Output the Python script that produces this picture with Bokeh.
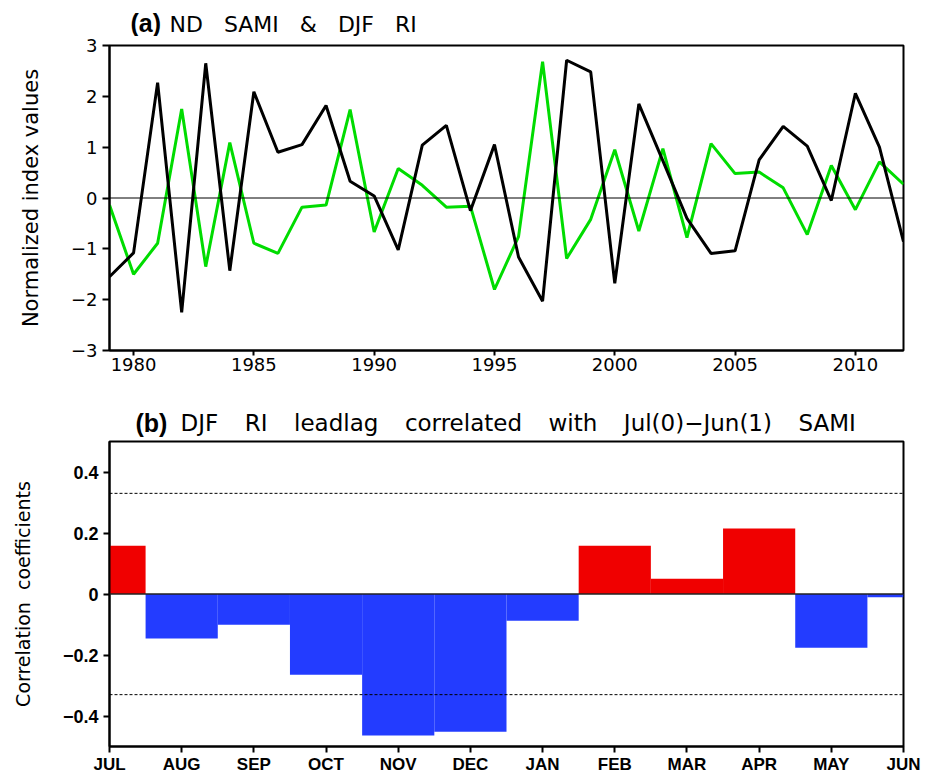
from bokeh.plotting import figure
from bokeh.models import Range1d, FixedTicker, Label, Span
from bokeh.layouts import column
from bokeh.embed import file_html
from bokeh.resources import INLINE

# ---- data panel (a) ----
years = list(range(1979, 2013))
ri_djf = [-1.55, -1.08, 2.27, -2.25, 2.65, -1.43, 2.09, 0.90, 1.05, 1.82,
          0.33, 0.04, -1.02, 1.04, 1.43, -0.25, 1.05, -1.16, -2.03, 2.71,
          2.48, -1.68, 1.85, 0.73, -0.40, -1.09, -1.04, 0.75, 1.41, 1.02,
          -0.05, 2.06, 1.00, -0.86]
sami_nd = [-0.14, -1.50, -0.89, 1.75, -1.35, 1.09, -0.89, -1.09, -0.18, -0.14,
           1.74, -0.67, 0.58, 0.25, -0.18, -0.16, -1.80, -0.76, 2.68, -1.19,
           -0.42, 0.95, -0.65, 0.97, -0.78, 1.07, 0.48, 0.51, 0.20, -0.72,
           0.64, -0.23, 0.71, 0.27]
year_ticks = [1980, 1985, 1990, 1995, 2000, 2005, 2010]
a_yticks = [-3, -2, -1, 0, 1, 2, 3]

# ---- data panel (b) ----
months = ["JUL", "AUG", "SEP", "OCT", "NOV", "DEC", "JAN", "FEB", "MAR", "APR", "MAY", "JUN"]
corr = [0.158, -0.146, -0.101, -0.265, -0.464, -0.452, -0.088, 0.158, 0.050, 0.215, -0.176, -0.011]
sig_level = 0.33
b_yticks = [-0.4, -0.2, 0.0, 0.2, 0.4]

SP = "\u00a0\u00a0\u00a0"
SPB = "\u00a0\u00a0\u00a0\u2009"
title_a_tag = "(a)"
title_a_text = SP.join(["ND", "SAMI", "&", "DJF", "RI"])
title_b_tag = "(b)"
title_b_text = SPB.join(["DJF", "RI", "leadlag", "correlated", "with", "Jul(0)\u2212Jun(1)", "SAMI"])

FONT = "Liberation Sans"
TFONT = "DejaVu Sans"
LB, FW, RB = 109, 794, 20

def style(p):
    p.outline_line_color = "black"
    p.outline_line_width = 2
    p.xgrid.visible = False
    p.ygrid.visible = False
    p.background_fill_color = "white"
    p.border_fill_color = "white"
    for ax in (p.xaxis[0], p.yaxis[0]):
        ax.axis_line_width = 2
        ax.axis_line_color = "black"
        ax.major_tick_line_width = 2
        ax.major_tick_in = 0
        ax.minor_tick_line_color = None
        ax.major_label_text_font = FONT
        ax.major_label_text_color = "black"
        ax.axis_label_text_font = TFONT
        ax.axis_label_text_font_style = "normal"
        ax.axis_label_text_color = "black"

def header(h, tag, tag_x, tag_y, text, text_x, text_y, text_size):
    f = figure(output_backend="svg", toolbar_location=None, title=None,
               frame_width=FW, frame_height=h,
               min_border_left=LB, min_border_right=RB,
               min_border_top=0, min_border_bottom=0,
               x_axis_type=None, y_axis_type=None,
               x_range=Range1d(LB, LB + FW), y_range=Range1d(0, h))
    f.outline_line_color = None
    f.xgrid.visible = False
    f.ygrid.visible = False
    f.add_layout(Label(x=tag_x, y=tag_y, text=tag, text_font=FONT, text_font_style="bold",
                       text_font_size="25px", text_color="black", text_baseline="middle"))
    f.add_layout(Label(x=text_x, y=text_y, text=text, text_font=TFONT,
                       text_font_size=text_size, text_color="black", text_baseline="middle"))
    return f

# ---------------- header (a) ----------------
h1 = header(36, title_a_tag, 130, 14, title_a_text, 169, 12, "22px")

# ---------------- panel (a) ----------------
p1 = figure(output_backend="svg", toolbar_location=None, title=None,
            frame_width=FW, frame_height=305,
            min_border_left=LB, min_border_right=RB,
            min_border_top=9, min_border_bottom=30,
            x_range=Range1d(1979, 2012), y_range=Range1d(-3, 3))
style(p1)
p1.line(years, sami_nd, line_color="#00dc00", line_width=3)
p1.line(years, ri_djf, line_color="black", line_width=3)
p1.add_layout(Span(location=0, dimension="width", line_color="black", line_width=1))

p1.xaxis.ticker = FixedTicker(ticks=year_ticks)
p1.yaxis.ticker = FixedTicker(ticks=a_yticks)
p1.yaxis.major_label_overrides = {t: (str(t) if t >= 0 else "\u2212" + str(-t)) for t in a_yticks}
p1.xaxis.major_tick_out = 5
p1.yaxis.major_tick_out = 7
p1.xaxis.major_label_text_font = TFONT
p1.yaxis.major_label_text_font = TFONT
p1.xaxis.major_label_text_font_size = "18px"
p1.yaxis.major_label_text_font_size = "18px"
p1.xaxis.major_label_standoff = 2
p1.yaxis.major_label_standoff = 5
p1.yaxis.axis_label = "Normalized index values"
p1.yaxis.axis_label_text_font_size = "21px"
p1.yaxis.axis_label_standoff = 25

# ---------------- header (b) ----------------
h2 = header(58, title_b_tag, 135, 15.5, title_b_text, 180, 15.5, "23px")

# ---------------- panel (b) ----------------
xs = list(range(len(months)))
colors = ["#f00000" if v >= 0 else "#233cff" for v in corr]
p2 = figure(output_backend="svg", toolbar_location=None, title=None,
            frame_width=FW, frame_height=305,
            min_border_left=LB, min_border_right=RB,
            min_border_top=3, min_border_bottom=26,
            x_range=Range1d(0, 11), y_range=Range1d(-0.5, 0.5))
style(p2)
p2.vbar(x=xs, top=corr, bottom=0, width=1.0, fill_color=colors, line_color=None)
p2.add_layout(Span(location=0, dimension="width", line_color="#222222", line_width=1.5))
p2.add_layout(Span(location=sig_level, dimension="width", line_color="black",
                   line_width=1, line_dash="3 2"))
p2.add_layout(Span(location=-sig_level, dimension="width", line_color="black",
                   line_width=1, line_dash="3 2"))

p2.xaxis.ticker = FixedTicker(ticks=xs)
p2.xaxis.major_label_overrides = {i: m for i, m in enumerate(months)}
p2.yaxis.ticker = FixedTicker(ticks=b_yticks)
p2.yaxis.major_label_overrides = {t: ("0" if t == 0 else ("%.1f" % t if t > 0 else "\u2212%.1f" % -t))
                                  for t in b_yticks}
p2.xaxis.major_tick_out = 6
p2.yaxis.major_tick_out = 6
p2.xaxis.major_label_text_font_size = "17px"
p2.yaxis.major_label_text_font_size = "18px"
p2.xaxis.major_label_text_font_style = "bold"
p2.yaxis.major_label_text_font_style = "bold"
p2.xaxis.major_label_standoff = 2
p2.yaxis.major_label_standoff = 5
p2.yaxis.axis_label = "Correlation\u00a0\u00a0coefficients"
p2.yaxis.axis_label_text_font_size = "19px"
p2.yaxis.axis_label_standoff = 26

layout = column(h1, p1, h2, p2, spacing=0)
open("out.html", "w").write(file_html(layout, INLINE))
